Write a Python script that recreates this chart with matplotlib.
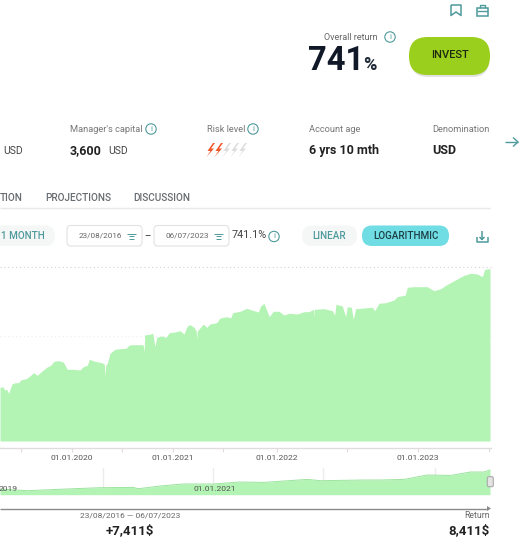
import matplotlib
matplotlib.use("Agg")
import matplotlib.pyplot as plt
from matplotlib.patches import FancyBboxPatch, Circle, Polygon, Rectangle
from matplotlib.lines import Line2D

plt.rcParams['font.family'] = ['Roboto', 'DejaVu Sans']

# position along the (non-uniform) time axis
main_pos = [0,2.7,4.7,6.7,8.7,12,15.3,18.7,20.7,26,30,33.3,35.3,37.3,41.7,46.7,50.7,54,58.3,63.3,67.3,73.3,80,83.3,87.3,89.3,95,101.7,104.3,105,105.8,107.3,110,115,120,126,129.3,135,143,144.3,144.7,150.7,152.7,155,156.7,161.7,166,169.3,175,180,184,187.3,190,194,196.2,196.7,197.3,199.3,203.3,206.7,210,216.7,220,226.7,230.7,232.7,240,246.7,251.7,258.3,260.7,264,
            265.3,269.3,273.3,279,284,289,297.3,304,309,313.6,314,314.4,324,332.3,334.7,336,342.3,345.7,347.3,351.3,353.3,355.7,364,372.3,374.7,379,385.7,394,397.3,405.3,407.3,414,427.3,434,440.7,445.7,454,464,470.7,477.3,482.3,484.7,490]
# growth on the logarithmic chart, in chart height units
main_val = [53.7,54.3,51,51.7,47.7,57,58.3,58.3,61,62.3,65,68.3,67,65.7,69.7,73.7,75.7,79.7,80.3,79,71.7,71.7,71,74.3,75.7,81.7,79.7,78.3,77,65,76,77.7,87.7,91.7,92.3,92.7,96,96.3,96.3,89.3,106,107,107.7,94.3,103.7,105,103.7,108.3,109,110.3,107,115,116.3,113.7,110,101.7,110,112.3,117,113.7,117,118.3,123,124.3,123,128.3,129.7,132.7,131,129,135,137.7,
            134.3,124.3,129.7,129.7,126,127.7,127,129.3,129.3,131.7,124,131.7,132.3,130.3,126,136.7,135,124.3,134.3,133.7,121.7,132.3,133,133.7,130.3,137.7,138.3,141,144.3,146,153.7,154.3,154.3,150.3,152.3,155.7,160.3,165.7,167.7,167,164.3,171.7,172.3]
grid_vals = [105, 174]
grid_colors = ['#efefef', '#d4d4d4']
tick_pos = [20.7,71.7,122,173,223,276.7,346.7,418,489]
tick_labels = ['', '01.01.2020', '', '01.01.2021', '', '01.01.2022', '', '01.01.2023', '']

mini_pos = [0,26.7,66.7,100,133.3,138.3,160,183.3,213.3,240,264,307.3,320.7,364,380.7,404,427.3,450.7,470.7,484,490]
mini_val = [5.7,4,5.7,7,7.3,6,8.7,10.7,10.7,12.7,12.3,15.3,14,14.7,14.7,15.3,19.7,19.3,22.7,22.7,24.7]
mini_grid = [102.7,213,323,434.7]

W, H = 528, 558
fig = plt.figure(figsize=(W/100, H/100), dpi=100)
FILL = '#b3f3b4'

def axpx(l, t, r, b):
    return fig.add_axes([l/W, 1-b/H, (r-l)/W, (b-t)/H])

# main chart
ax = axpx(0, 267, 490.7, 441)
ax.set_xlim(0, 490.7); ax.set_ylim(0, 174)
ax.fill_between(main_pos, main_val, 0, color=FILL, lw=0, zorder=2)
for g, c in zip(grid_vals, grid_colors):
    ax.axhline(g, color=c, lw=0.8, ls=(0, (1, 2.5)), zorder=1, clip_on=False)
ax.set_yticks([])
for s in ['top', 'left', 'right']:
    ax.spines[s].set_visible(False)
ax.patch.set_alpha(0)
ax.spines['bottom'].set_position(('outward', 4.8))
ax.spines['bottom'].set_color('#e0dcdc')
ax.spines['bottom'].set_linewidth(1)
ax.set_xticks(tick_pos)
ax.set_xticklabels(tick_labels, fontsize=6.1, color='#555555')
ax.tick_params(axis='x', length=3, width=0.8, color='#e0dcdc', pad=2.5)

# navigator
mx = axpx(0, 468, 490.7, 494.7)
mx.set_xlim(0, 490.7); mx.set_ylim(0, 26.7)
for g in mini_grid:
    mx.axvline(g, color='#ececec', lw=1, zorder=1)
mx.fill_between(mini_pos, mini_val, 0, color=FILL, lw=0, zorder=2)
mx.plot(mini_pos, mini_val, color='#9be49e', lw=0.7, zorder=3)
mx.set_xticks([]); mx.set_yticks([])
for s in mx.spines.values():
    s.set_visible(False)
mx.patch.set_alpha(0)

# page overlay in pixel coordinates
ui = fig.add_axes([0, 0, 1, 1], zorder=5)
ui.set_xlim(0, W); ui.set_ylim(H, 0); ui.axis('off'); ui.patch.set_alpha(0)
TEAL = '#4f9a9c'

def txt(x, y, s, size, color='#333333', ha='left', weight='normal'):
    ui.text(x, y, s, fontsize=size, color=color, ha=ha, va='center', fontweight=weight)

def pill(x0, y0, x1, y1, r, fc, ec='none', lw=0, z=2):
    ui.add_patch(FancyBboxPatch((x0+r, y0+r), x1-x0-2*r, y1-y0-2*r,
                                boxstyle=f'round,pad={r},rounding_size={r}', fc=fc, ec=ec, lw=lw, zorder=z))

def line(xs, ys, c=TEAL, lw=1.0):
    ui.add_line(Line2D(xs, ys, color=c, lw=lw, solid_capstyle='butt'))

def info(x, y):
    ui.add_patch(Circle((x, y), 5.2, fc='none', ec=TEAL, lw=0.8))
    ui.text(x, y, 'i', fontsize=6, color=TEAL, ha='center', va='center')

def bolt(x, y, c):
    ui.add_patch(Polygon([(x+6, y-7), (x+0.5, y+1), (x+3.5, y+1), (x-0.5, y+7), (x+7, y-1.5), (x+4, y-1.5), (x+8, y-7)],
                         closed=True, fc=c, ec='none'))

# top icons
line([451, 451, 456, 461, 461, 451], [5, 15.5, 12, 15.5, 5, 5], lw=1.1)
ui.add_patch(Rectangle((476.5, 7.5), 11, 8.5, fc='none', ec=TEAL, lw=1.1))
line([476.5, 487.5], [11, 11], lw=1); line([479.5, 479.5, 484.5, 484.5], [7.5, 5, 5, 7.5], lw=1)

# headline
txt(324, 37, 'Overall return', 6.5, '#666666')
info(390, 37)
txt(308, 61, '741', 23.5, '#111827', weight='bold')
txt(363, 65, '%', 13, '#1f2937', weight='bold')
pill(411, 41, 489, 77, 17, '#e2e2e2', z=1)
pill(409, 37, 490, 75, 18.5, '#9bcf1d')
txt(449.5, 55.5, 'INVEST', 8, '#1d2a10', ha='center', weight='medium')

# stats row
txt(70, 129, "Manager's capital", 6.7, '#777777'); info(151, 129)
txt(207, 129, 'Risk level', 6.7, '#777777'); info(253, 129)
txt(309, 129, 'Account age', 6.7, '#777777')
txt(432, 129, 'Denomination', 6.7, '#777777')
txt(3, 151, 'USD', 7.5, '#444444')
txt(70, 150.5, '3,600', 9, '#222222', weight='bold'); txt(108, 151, 'USD', 7.5, '#444444')
txt(309, 150.5, '6 yrs 10 mth', 9, '#222222', weight='bold')
txt(432, 150.5, 'USD', 9, '#222222', weight='bold')
for i, x in enumerate([207, 215, 223, 231, 239]):
    bolt(x, 150, '#f0562a' if i < 2 else '#dddddd')
line([505, 518], [142, 142], lw=1); line([513, 518, 513], [137.5, 142, 146.5], lw=1)

# tabs
txt(0, 198, 'TION', 7.2, '#666c70', weight='medium')
txt(45, 198, 'PROJECTIONS', 7.2, '#666c70', weight='medium')
txt(133, 198, 'DISCUSSION', 7.2, '#666c70', weight='medium')
line([0, 490], [208, 208], c='#e8e8e8', lw=1)

# controls
pill(-20, 225.5, 55, 246, 10, '#f5f6f6')
txt(1, 236, '1 MONTH', 7.1, TEAL, weight='medium')
for x0, s in [(67, '23/08/2016'), (154, '06/07/2023')]:
    pill(x0, 225.5, x0+75, 246, 4, 'white', ec='#e2e2e2', lw=0.8)
    txt(x0+12, 235.5, s, 5.9, '#666666')
    ui.add_patch(Rectangle((x0+60, 231), 8.5, 10, fc='none', ec=TEAL, lw=0.7))
    line([x0+60, x0+68.5], [233.5, 233.5], lw=0.7)
    line([x0+61.5, x0+67], [236, 236], lw=0.7); line([x0+61.5, x0+67], [238.5, 238.5], lw=0.7)
txt(147.5, 236, '–', 7, '#333333', ha='center')
txt(232, 235.5, '741.1%', 7.8, '#444444'); info(274, 236.5)
pill(302, 225.5, 357, 246, 10, '#f5f6f6')
txt(329.5, 236, 'LINEAR', 7.1, TEAL, ha='center', weight='medium')
pill(362, 225.5, 449, 246, 10, '#6fdde3')
txt(405.5, 236, 'LOGARITHMIC', 7.1, '#1d3f45', ha='center', weight='medium')
line([476.5, 476.5, 487.5, 487.5], [237, 242, 242, 237], lw=1.1)
line([482, 482], [231, 239.5], lw=1.1); line([479.5, 482, 484.5], [237, 239.5, 237], lw=1.1)

# navigator labels and handle
txt(-1, 489, '2019', 6.1, '#555555')
txt(215, 489, '01.01.2021', 6.1, '#555555', ha='center')
pill(487.3, 476.7, 493.3, 486.7, 1.5, '#e4e4e4', ec='#aaaaaa', lw=0.8, z=4)

# return summary
line([0, 488], [508.5, 508.5], c='#8a8a8a', lw=1)
ui.add_patch(Polygon([(487, 506), (491, 508.5), (487, 511)], closed=True, fc='#8a8a8a', ec='none'))
txt(130, 516, '23/08/2016 — 06/07/2023', 6.0, '#666666', ha='center')
txt(130, 531, '+7,411$', 9.5, '#222222', ha='center', weight='bold')
txt(490, 516, 'Return', 6.2, '#666666', ha='right')
txt(490, 531, '8,411$', 9.5, '#222222', ha='right', weight='bold')

fig.savefig('out.png', dpi=100, facecolor='white')
